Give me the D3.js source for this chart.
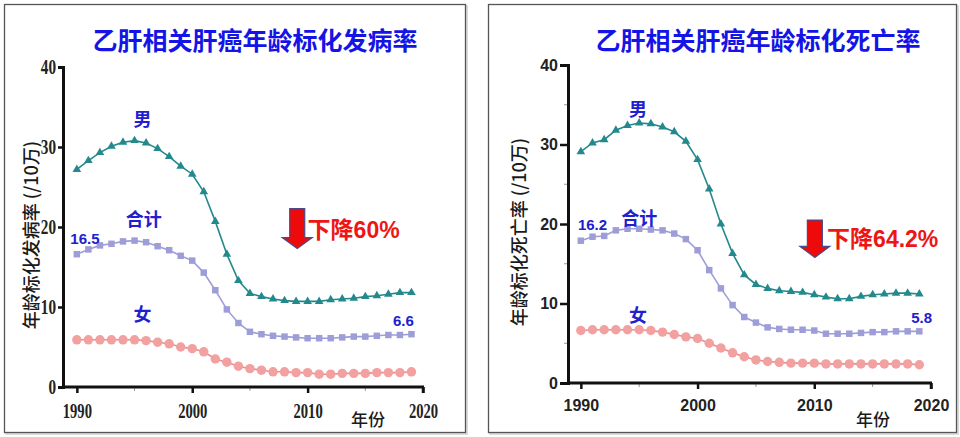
<!DOCTYPE html>
<html><head><meta charset="utf-8">
<script src="https://cdn.jsdelivr.net/npm/d3@7"></script>
<style>
html,body{margin:0;padding:0;background:#fff;}
svg{display:block;}
text{font-family:"Noto Sans CJK SC","Noto Sans",sans-serif;}
</style></head>
<body>
<svg id="chart" width="960" height="437"></svg>
<script>
const years = [1990,1991,1992,1993,1994,1995,1996,1997,1998,1999,2000,2001,2002,2003,2004,2005,2006,2007,2008,2009,2010,2011,2012,2013,2014,2015,2016,2017,2018,2019];
const xTicks = [1990,2000,2010,2020];
const xMinorTicks = [1995,2005,2015];
const yTicks = [0,10,20,30,40];
const yMinorTicks = [5,15,25,35];

// Incidence (left panel)
const incMale   = [27.2,28.3,29.3,30.1,30.6,30.8,30.5,29.8,28.8,27.6,26.6,24.4,20.7,16.6,13.3,11.7,11.3,11.0,10.8,10.7,10.7,10.7,10.9,11.0,11.1,11.3,11.4,11.6,11.8,11.8];
const incTotal  = [16.6,17.2,17.7,17.9,18.2,18.3,18.1,17.6,17.1,16.4,15.8,14.3,12.1,9.7,8.0,6.9,6.6,6.4,6.3,6.2,6.1,6.1,6.1,6.2,6.3,6.3,6.4,6.5,6.5,6.6];
const incFemale = [5.9,5.9,5.9,5.9,5.9,5.9,5.8,5.6,5.4,5.0,4.8,4.4,3.5,3.1,2.6,2.3,2.1,1.9,1.9,1.8,1.8,1.6,1.6,1.7,1.7,1.7,1.8,1.8,1.8,1.9];

// Mortality (right panel)
const mortMale   = [29.1,30.2,30.6,31.8,32.4,32.7,32.6,32.2,31.6,30.4,28.1,24.4,20.0,16.3,13.6,12.4,11.9,11.6,11.5,11.4,11.1,10.8,10.6,10.6,10.9,11.1,11.2,11.3,11.3,11.2];
const mortTotal  = [17.9,18.4,18.5,19.2,19.4,19.4,19.3,19.2,18.8,18.1,16.7,14.2,11.9,9.8,8.3,7.6,7.0,6.8,6.7,6.7,6.6,6.2,6.2,6.2,6.3,6.4,6.4,6.5,6.5,6.5];
const mortFemale = [6.6,6.7,6.7,6.7,6.7,6.7,6.6,6.4,6.1,5.8,5.6,5.0,4.4,3.8,3.3,2.9,2.7,2.6,2.5,2.5,2.5,2.4,2.4,2.4,2.4,2.4,2.4,2.4,2.4,2.3];

const titles = ["乙肝相关肝癌年龄标化发病率","乙肝相关肝癌年龄标化死亡率"];
const yLabels = ["年龄标化发病率 (/10万)","年龄标化死亡率 (/10万)"];
const seriesNames = ["男","合计","女"];
const startLabels = ["16.5","16.2"];
const endLabels = ["6.6","5.8"];
const dropLabels = ["下降60%","下降64.2%"];
const xAxisTitle = "年份";

const svg = d3.select("#chart");

const panels = [
  {frame:[4.5,4.5,461,428], x:[1988.8,2020,63,423], y:[387,67], serif:true,
   data:[incMale,incTotal,incFemale],
   lab:{male:[1995.7,33.6],total:[1995.8,21.1],female:[1995.7,9.2],start:[1990.7,18.6],end:[2018.3,8.3],
        arrow:[2009.1,22.3,17.3],drop:[2010.0,19.6]}, titleX:255, ylabX:30, yearX:368},
  {frame:[488.5,4.5,468,428], x:[1988.9,2020,568,931], y:[383,65], serif:false,
   data:[mortMale,mortTotal,mortFemale],
   lab:{male:[1994.9,34.6],total:[1995.0,20.9],female:[1994.9,8.7],start:[1991.0,20.0],end:[2019.2,8.2],
        arrow:[2010.05,20.5,15.8],drop:[2011.1,18.1]}, titleX:758, ylabX:518, yearX:873}
];

const colors = {male:"#23898c", total:"#9d9dd8", female:"#f2a0a0", femaleLine:"#e98c8c", label:"#2020d0", title:"#1414e6", red:"#ee1515"};
const sansDigits = '"Liberation Sans",Arial,"Noto Sans CJK SC",sans-serif';

panels.forEach((p,i)=>{
  const g = svg.append("g");
  // frame
  g.append("rect").attr("x",p.frame[0]+1.5).attr("y",p.frame[1]+1.5).attr("width",p.frame[2]).attr("height",p.frame[3])
    .attr("fill","none").attr("stroke","#d0d0d0").attr("stroke-width",1.5);
  g.append("rect").attr("x",p.frame[0]).attr("y",p.frame[1]).attr("width",p.frame[2]).attr("height",p.frame[3])
    .attr("fill","#fff").attr("stroke","#555").attr("stroke-width",1.3);

  const x = d3.scaleLinear().domain([p.x[0],p.x[1]]).range([p.x[2],p.x[3]]);
  const y = d3.scaleLinear().domain([0,40]).range(p.y);

  // title
  g.append("text").attr("x",p.titleX).attr("y",39).attr("text-anchor","middle").attr("dominant-baseline","central")
    .attr("font-size",25).attr("font-weight",700).attr("fill",colors.title).text(titles[i]);

  // minor ticks
  const minor = g.append("g").attr("stroke","#999").attr("stroke-width",1);
  xMinorTicks.forEach(t=>minor.append("line").attr("x1",x(t)).attr("x2",x(t)).attr("y1",y(0)).attr("y2",y(0)+4));
  if(!p.serif) yMinorTicks.forEach(t=>minor.append("line").attr("x1",x.range()[0]-4).attr("x2",x.range()[0]).attr("y1",y(t)).attr("y2",y(t)));

  // axes
  const xAxis = d3.axisBottom(x).tickValues(xTicks).tickFormat(d3.format("d")).tickSizeOuter(0).tickSize(6).tickPadding(8);
  const yAxis = d3.axisLeft(y).tickValues(yTicks).tickSizeOuter(0).tickSize(p.serif?5:8).tickPadding(2);
  const gx = g.append("g").attr("transform",`translate(0,${y(0)})`).call(xAxis);
  const gy = g.append("g").attr("transform",`translate(${x.range()[0]},0)`).call(yAxis);
  [gx,gy].forEach(a=>{
    a.select(".domain").attr("stroke","#111").attr("stroke-width",3);
    a.selectAll(".tick line").attr("stroke","#111").attr("stroke-width",2.5);
    a.selectAll(".tick text").attr("fill","#222").attr("font-weight",700)
      .style("font-family", p.serif ? '"Liberation Serif","DejaVu Serif",serif' : '"Liberation Sans",Arial,sans-serif')
      .attr("font-size", p.serif?20:16);
  });
  if(p.serif){
    gx.selectAll(".tick text").attr("textLength",d=>String(d).length*7.3).attr("lengthAdjust","spacingAndGlyphs").attr("dy","0.85em");
    gy.selectAll(".tick text").attr("textLength",d=>String(d).length*7.6).attr("lengthAdjust","spacingAndGlyphs");
  } else {
    gx.selectAll(".tick text").attr("dy","0.85em");
  }
  gx.select(".domain").attr("d",`M${x.range()[0]},0H${x.range()[1]+1}`);
  gx.append("line").attr("x1",x.range()[1]).attr("x2",x.range()[1]).attr("y1",0).attr("y2",6).attr("stroke","#111").attr("stroke-width",2.5);

  // y label
  g.append("text").attr("transform",`translate(${p.ylabX},${(y(0)+y(40))/2+8}) rotate(-90)`)
    .attr("text-anchor","middle").attr("dominant-baseline","central").attr("font-size",18).attr("font-weight",500)
    .attr("fill","#1a1a1a").text(yLabels[i]);
  // x title
  g.append("text").attr("x",p.yearX).attr("y",418).attr("text-anchor","middle").attr("dominant-baseline","central")
    .attr("font-size",17).attr("font-weight",500).attr("fill","#1a1a1a").text(xAxisTitle);

  // series
  const line = d3.line().x((d,j)=>x(years[j])).y(d=>y(d));
  const styles = [
    {stroke:colors.male, fill:colors.male, sym:d3.symbolTriangle, size:32},
    {stroke:colors.total, fill:colors.total, sym:d3.symbolSquare, size:42},
    {stroke:colors.femaleLine, fill:colors.female, sym:d3.symbolCircle, size:70}
  ];
  p.data.slice().reverse().forEach((vals,k0)=>{
    const k = 2-k0;
    const st = styles[k];
    g.append("path").datum(vals).attr("d",line).attr("fill","none").attr("stroke",st.stroke).attr("stroke-width",1.6);
    g.append("g").selectAll("path").data(vals).join("path")
      .attr("transform",(d,j)=>`translate(${x(years[j])},${y(d)})`)
      .attr("d",d3.symbol().type(st.sym).size(st.size)).attr("fill",st.fill);
  });

  // series labels
  const L = p.lab;
  const lab = (pos,txt,size,family)=>g.append("text").attr("x",x(pos[0])).attr("y",y(pos[1]))
    .attr("text-anchor","middle").attr("dominant-baseline","central").attr("font-size",size).attr("font-weight",700)
    .attr("fill",colors.label).style("font-family",family||null).text(txt);
  lab(L.male,seriesNames[0],18);
  lab(L.total,seriesNames[1],18);
  lab(L.female,seriesNames[2],18);
  lab(L.start,startLabels[i],15,sansDigits);
  lab(L.end,endLabels[i],15,sansDigits);

  // arrow
  const ax = x(L.arrow[0]), ay0 = y(L.arrow[1]), ay1 = y(L.arrow[2]);
  const hh = 11, sw = 7.5, hw = 15;
  g.append("path").attr("d",`M${ax-sw},${ay0}H${ax+sw}V${ay1-hh}H${ax+hw}L${ax},${ay1}L${ax-hw},${ay1-hh}H${ax-sw}Z`)
    .attr("fill","#ee0a0a").attr("stroke","#4a4a8a").attr("stroke-width",1.2);
  g.append("text").attr("x",x(L.drop[0])).attr("y",y(L.drop[1])).attr("dominant-baseline","central")
    .attr("font-size",23).attr("font-weight",700).attr("fill",colors.red).style("font-family",sansDigits).text(dropLabels[i]);
});
</script>
</body></html>
